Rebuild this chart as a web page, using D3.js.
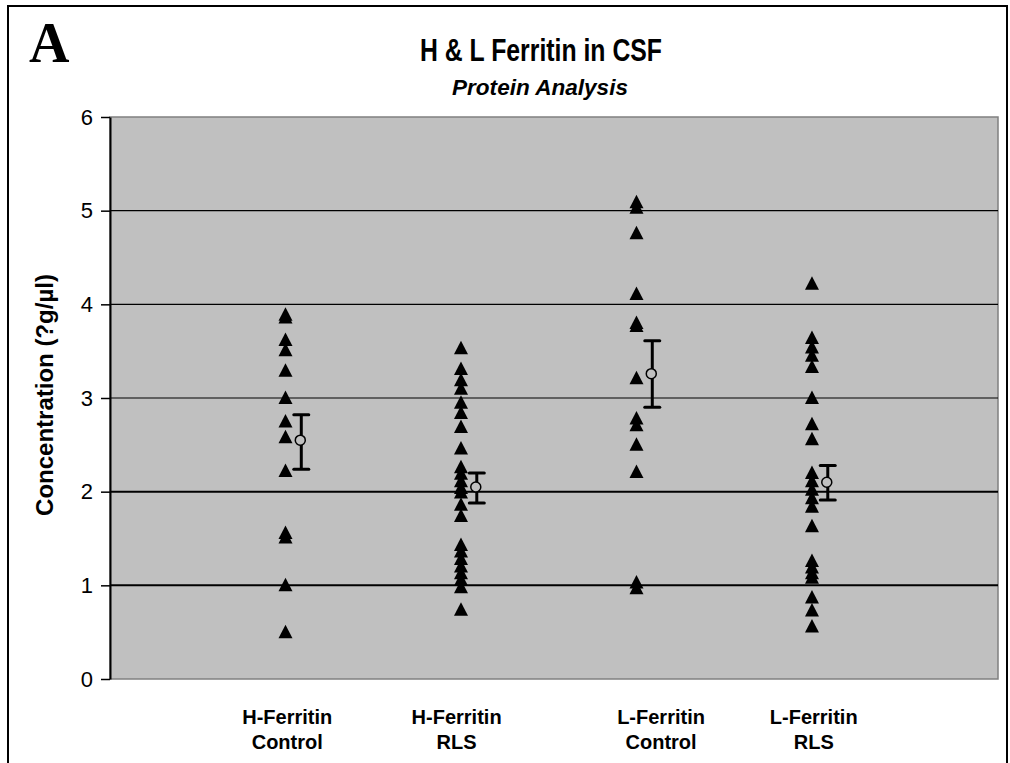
<!DOCTYPE html>
<html>
<head>
<meta charset="utf-8">
<script src="https://cdn.jsdelivr.net/npm/d3@7"></script>
<style>
  html, body { margin: 0; padding: 0; background: #fff; }
  svg { display: block; }
</style>
</head>
<body>
<script>
// Group positions on the x axis and their two-line labels
const groups = [1, 2, 3, 4];
const categoryLines = [
  ["H-Ferritin", "Control"],
  ["H-Ferritin", "RLS"],
  ["L-Ferritin", "Control"],
  ["L-Ferritin", "RLS"]
];
const labelPos = [1.01, 1.975, 3.14, 4.01];

// Individual sample concentrations per group
const hControl = [3.89, 3.86, 3.62, 3.51, 3.29, 3.00, 2.75, 2.58, 2.22, 1.56, 1.51, 1.00, 0.50];
const hRLS = [3.53, 3.31, 3.19, 3.10, 2.95, 2.84, 2.69, 2.46, 2.26, 2.19, 2.11, 2.04, 1.99,
              1.86, 1.74, 1.43, 1.36, 1.28, 1.20, 1.13, 1.06, 0.98, 0.74];
const lControl = [5.09, 5.03, 4.76, 4.11, 3.80, 3.77, 3.21, 2.78, 2.71, 2.50, 2.21, 1.03, 0.97];
const lRLS = [4.22, 3.64, 3.54, 3.45, 3.33, 3.00, 2.72, 2.56, 2.20, 2.11, 2.02, 1.93, 1.84,
              1.63, 1.26, 1.19, 1.13, 1.08, 0.87, 0.73, 0.56];

// Group mean with its error range
const means = [2.55, 2.05, 3.26, 2.10];
const errLow = [2.24, 1.88, 2.90, 1.91];
const errHigh = [2.82, 2.20, 3.61, 2.28];
const meanOffset = 0.09;

const yTicks = [0, 1, 2, 3, 4, 5, 6];

const W = 1010, H = 763;
const plot = { left: 110, top: 117, right: 998, bottom: 679 };
const sans = "'Liberation Sans', Arial, sans-serif";

const svg = d3.select("body").append("svg")
  .attr("width", W).attr("height", H);

// outer frame
svg.append("path")
  .attr("d", `M8,${H} L8,6 L1007,6 L1007,${H}`)
  .attr("fill", "none").attr("stroke", "#000").attr("stroke-width", 2);

const x = d3.scaleLinear().domain([0, 5.06]).range([plot.left, plot.right]);
const y = d3.scaleLinear().domain([0, 6]).range([plot.bottom, plot.top]);

// plot background
svg.append("rect")
  .attr("x", plot.left).attr("y", plot.top)
  .attr("width", plot.right - plot.left).attr("height", plot.bottom - plot.top)
  .attr("fill", "#c0c0c0").attr("stroke", "#808080").attr("stroke-width", 1.5);

// horizontal gridlines
svg.append("g").selectAll("line")
  .data(yTicks.filter(t => t > 0 && t < 6))
  .join("line")
  .attr("x1", plot.left).attr("x2", plot.right)
  .attr("y1", d => y(d)).attr("y2", d => y(d))
  .attr("stroke", "#000").attr("stroke-width", d => d <= 2 ? 2 : 1.2);

// y axis
const yAxis = svg.append("g")
  .attr("transform", `translate(${plot.left},0)`)
  .call(d3.axisLeft(y).tickValues(yTicks).tickFormat(d3.format("d")).tickSizeInner(9).tickSizeOuter(0).tickPadding(8));
yAxis.select(".domain").attr("stroke", "#000").attr("stroke-width", 2);
yAxis.selectAll(".tick line").attr("stroke", "#000").attr("stroke-width", 1.5);
yAxis.selectAll(".tick text")
  .attr("font-family", sans)
  .attr("font-size", 22).attr("fill", "#000");

// triangle marker
const tri = "M0,-7.5 L7,6 L-7,6 Z";
const series = [hControl, hRLS, lControl, lRLS];
series.forEach((vals, i) => {
  svg.append("g").selectAll("path")
    .data(vals)
    .join("path")
    .attr("d", tri)
    .attr("transform", d => `translate(${x(groups[i])},${y(d)})`)
    .attr("fill", "#000");
});

// mean and error bars
const eb = svg.append("g");
groups.forEach((g, i) => {
  const cx = x(g + meanOffset);
  eb.append("line")
    .attr("x1", cx).attr("x2", cx)
    .attr("y1", y(errLow[i])).attr("y2", y(errHigh[i]))
    .attr("stroke", "#000").attr("stroke-width", 3);
  [errLow[i], errHigh[i]].forEach(v => {
    eb.append("line")
      .attr("x1", cx - 7.5).attr("x2", cx + 7.5)
      .attr("y1", y(v)).attr("y2", y(v))
      .attr("stroke", "#000").attr("stroke-width", 3).attr("stroke-linecap", "round");
  });
  eb.append("circle")
    .attr("cx", cx - 1).attr("cy", y(means[i])).attr("r", 5)
    .attr("fill", "#c0c0c0").attr("stroke", "#000").attr("stroke-width", 1.5);
});

// category labels
const lab = svg.append("g")
  .attr("font-family", sans)
  .attr("font-weight", "bold").attr("font-size", 20).attr("fill", "#000")
  .attr("text-anchor", "middle");
categoryLines.forEach((lines, i) => {
  lines.forEach((t, j) => {
    lab.append("text")
      .attr("x", x(labelPos[i])).attr("y", 724 + j * 25)
      .text(t);
  });
});

// y axis title
svg.append("text")
  .attr("transform", `translate(53,395) rotate(-90)`)
  .attr("text-anchor", "middle")
  .attr("font-family", sans)
  .attr("font-weight", "bold").attr("font-size", 24)
  .text("Concentration (?g/µl)");

// titles
svg.append("text")
  .attr("x", 541).attr("y", 61).attr("text-anchor", "middle")
  .attr("font-family", sans)
  .attr("font-weight", "bold").attr("font-size", 32)
  .attr("textLength", 242).attr("lengthAdjust", "spacingAndGlyphs")
  .text("H & L Ferritin in CSF");
svg.append("text")
  .attr("x", 540).attr("y", 95).attr("text-anchor", "middle")
  .attr("font-family", sans)
  .attr("font-weight", "bold").attr("font-style", "italic").attr("font-size", 22)
  .attr("textLength", 176).attr("lengthAdjust", "spacingAndGlyphs")
  .text("Protein Analysis");

// panel letter
svg.append("text")
  .attr("x", 29).attr("y", 62)
  .attr("font-family", "'Liberation Serif', 'Times New Roman', serif")
  .attr("font-weight", "bold").attr("font-size", 56)
  .text("A");
</script>
</body>
</html>
